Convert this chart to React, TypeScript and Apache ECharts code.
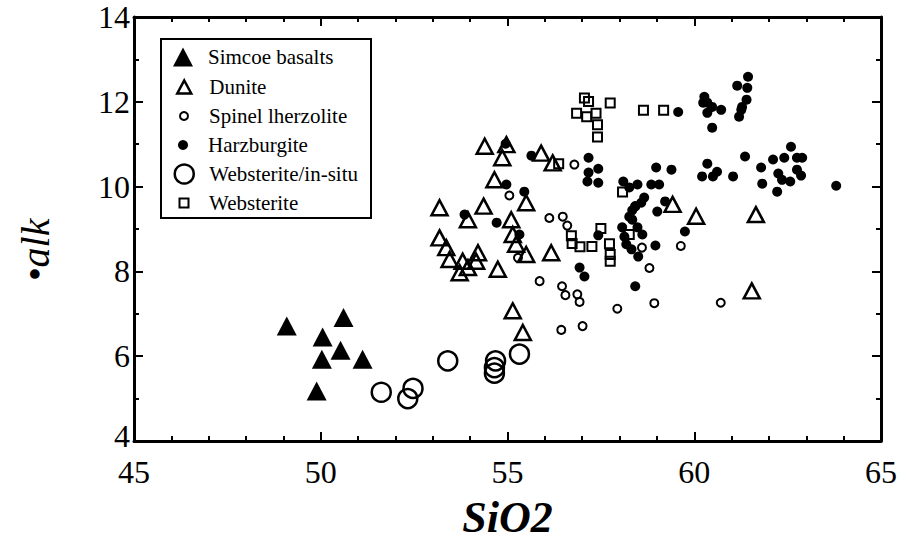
import React, { useEffect, useRef } from "react";
import * as echarts from "echarts";

const xTicks = [45, 50, 55, 60, 65];
const yTicks = [4, 6, 8, 10, 12, 14];

const seriesNames = [
  "Simcoe basalts",
  "Dunite",
  "Spinel lherzolite",
  "Harzburgite",
  "Websterite/in-situ",
  "Websterite",
];

const simcoeBasalts = [
  [49.09, 6.71], [50.05, 6.45], [50.61, 6.91], [50.53, 6.14],
  [50.03, 5.93], [51.12, 5.93], [49.89, 5.18],
];

const dunite = [
  [54.39, 10.95], [54.97, 10.99], [54.86, 10.68], [55.9, 10.79], [56.21, 10.56],
  [54.65, 10.16], [55.5, 9.62], [53.18, 9.5], [54.36, 9.54], [53.94, 9.22],
  [55.1, 9.22], [53.18, 8.79], [53.36, 8.56], [53.45, 8.28], [53.8, 8.24],
  [53.72, 7.97], [53.94, 8.09], [54.21, 8.44], [54.16, 8.24], [55.14, 8.87],
  [55.23, 8.64], [55.5, 8.4], [56.17, 8.44], [54.74, 8.05], [55.14, 7.07],
  [55.41, 6.56], [59.42, 9.58], [60.05, 9.3], [61.65, 9.34], [61.54, 7.54],
];

const spinelLherzolite = [
  [56.79, 10.52], [55.05, 9.79], [56.12, 9.26], [56.48, 9.29], [56.6, 9.08],
  [55.28, 8.32], [55.86, 7.77], [56.46, 7.65], [56.55, 7.44], [56.87, 7.46],
  [56.93, 7.28], [56.44, 6.62], [57.01, 6.71], [57.94, 7.12], [58.93, 7.25],
  [58.8, 8.08], [58.6, 8.56], [59.64, 8.6], [60.71, 7.26], [58.42, 9.54],
];

const harzburgite = [
  [61.44, 12.59], [61.15, 12.38], [61.42, 12.33], [61.4, 12.05], [61.28, 11.88],
  [61.26, 11.81], [61.2, 11.65], [60.27, 12.12], [60.24, 11.98], [60.35, 11.98],
  [60.48, 11.88], [60.72, 11.81], [60.35, 11.74], [60.48, 11.39], [59.57, 11.76],
  [57.17, 10.68], [57.43, 10.42], [57.17, 10.33], [57.14, 10.12], [57.43, 10.09],
  [58.98, 10.45], [59.39, 10.4], [58.1, 10.12], [58.48, 10.05], [58.85, 10.05],
  [59.06, 10.05], [58.26, 9.98], [60.35, 10.54], [60.21, 10.24], [60.5, 10.24],
  [60.61, 10.35], [61.04, 10.24], [61.36, 10.71], [61.79, 10.45], [61.82, 10.07],
  [62.11, 10.64], [62.25, 10.31], [62.35, 10.16], [62.59, 10.94], [62.41, 10.68],
  [62.75, 10.68], [62.89, 10.68], [62.75, 10.4], [62.86, 10.26], [62.57, 10.12],
  [62.22, 9.88], [63.8, 10.02], [58.66, 9.74], [58.58, 9.62], [58.42, 9.53],
  [58.34, 9.44], [58.26, 9.29], [58.34, 9.22], [59.01, 9.41], [59.22, 9.65],
  [58.07, 9.04], [58.13, 8.82], [58.48, 9.04], [58.61, 8.87], [58.18, 8.64],
  [58.32, 8.52], [58.5, 8.35], [58.96, 8.61], [59.75, 8.94], [56.93, 8.09],
  [57.06, 7.88], [58.42, 7.65], [57.43, 8.85], [55.64, 10.73], [54.95, 11.01],
  [54.97, 10.05], [55.45, 9.88], [53.85, 9.34], [54.71, 9.15], [55.32, 8.87],
];

const websteriteInSitu = [
  [51.62, 5.15], [52.33, 5.0], [52.47, 5.24], [53.4, 5.89],
  [54.65, 5.6], [54.65, 5.73], [54.68, 5.89], [55.32, 6.05],
];

const websterite = [
  [57.06, 12.09], [57.17, 12.01], [57.75, 11.97], [56.85, 11.73], [57.12, 11.65],
  [57.37, 11.73], [57.41, 11.46], [57.41, 11.17], [58.64, 11.8], [59.18, 11.8],
  [56.37, 10.54], [58.08, 9.87], [57.5, 9.01], [58.26, 8.87], [56.71, 8.84],
  [56.73, 8.66], [56.94, 8.58], [57.26, 8.59], [57.73, 8.65], [57.75, 8.4],
  [57.75, 8.24],
];

const FONT = "Liberation Serif";
const CLEAR = "rgba(0,0,0,0)";

export default function App() {
  const ref = useRef<HTMLDivElement>(null);

  useEffect(() => {
    document.body.style.margin = "0";
    if (!ref.current) return;
    const chart = echarts.init(ref.current, null, { renderer: "svg" });

    const styles = [
      { symbol: "triangle", size: [20, 19], legendSize: [20, 19], item: { color: "#000", opacity: 1 } },
      { symbol: "triangle", size: [16, 15], legendSize: [14, 13], item: { color: CLEAR, borderColor: "#000", borderWidth: 2.5, opacity: 1 } },
      { symbol: "circle", size: [8, 8], legendSize: [8, 8], item: { color: CLEAR, borderColor: "#000", borderWidth: 2, opacity: 1 } },
      { symbol: "circle", size: [10, 10], legendSize: [10, 10], item: { color: "#000", opacity: 1 } },
      { symbol: "circle", size: [19, 19], legendSize: [19, 19], item: { color: CLEAR, borderColor: "#000", borderWidth: 2.5, opacity: 1 } },
      { symbol: "rect", size: [9, 9], legendSize: [9, 9], item: { color: CLEAR, borderColor: "#000", borderWidth: 2, opacity: 1 } },
    ];
    const datasets = [simcoeBasalts, dunite, spinelLherzolite, harzburgite, websteriteInSitu, websterite];

    const legendCenters = [57, 87, 116, 145, 174, 203];
    const legends = seriesNames.map((name, i) => {
      const [w, h] = styles[i].legendSize;
      return {
        show: true,
        orient: "vertical",
        left: 183 - w / 2,
        top: legendCenters[i] - 12,
        padding: 0,
        itemWidth: w,
        itemHeight: h,
        selectedMode: false,
        data: [{ name, icon: styles[i].symbol, itemStyle: { ...styles[i].item } }],
        textStyle: {
          fontFamily: FONT,
          fontSize: 21,
          color: "#000",
          lineHeight: 24,
          padding: [0, 0, 0, 20 - w / 2],
        },
      };
    });

    const axisLine = { show: true, onZero: false, lineStyle: { color: "#000", width: 3 } };
    const tickStyle = { color: "#000", width: 2 };

    const xBase = {
      type: "value",
      min: 45,
      max: 65,
      interval: 5,
      axisLine,
      axisTick: { show: true, inside: true, length: 9, lineStyle: tickStyle },
      minorTick: { show: true, splitNumber: 5, length: 5, lineStyle: tickStyle },
      splitLine: { show: false },
      minorSplitLine: { show: false },
    };
    const yBase = {
      type: "value",
      min: 4,
      max: 14,
      interval: 2,
      axisLine,
      axisTick: { show: true, inside: true, length: 9, lineStyle: tickStyle },
      minorTick: { show: true, splitNumber: 2, length: 5, lineStyle: tickStyle },
      splitLine: { show: false },
      minorSplitLine: { show: false },
    };

    chart.setOption({
      animation: false,
      backgroundColor: "#fff",
      grid: { left: 134, right: 18, top: 17, bottom: 102 },
      legend: legends,
      xAxis: [
        {
          ...xBase,
          position: "bottom",
          name: "SiO2",
          nameLocation: "middle",
          nameGap: 54,
          nameTextStyle: { fontFamily: FONT, fontStyle: "italic", fontWeight: "bold", fontSize: 44, color: "#000" },
          axisLabel: {
            fontFamily: FONT,
            fontSize: 32,
            lineHeight: 30,
            color: "#000",
            margin: 16,
            formatter: (v: number) => (xTicks.includes(v) ? String(v) : ""),
          },
        },
        { ...xBase, position: "top", axisLabel: { show: false } },
      ],
      yAxis: [
        {
          ...yBase,
          position: "left",
          axisLabel: {
            fontFamily: FONT,
            fontSize: 32,
            lineHeight: 24,
            color: "#000",
            margin: 4,
            formatter: (v: number) =>
              v === 4 ? "{low|4}" : yTicks.includes(v) ? String(v) : "",
            rich: {
              low: { fontFamily: FONT, fontSize: 32, lineHeight: 24, color: "#000", padding: [0, 0, 10, 0] },
            },
          },
        },
        { ...yBase, position: "right", axisLabel: { show: false } },
      ],
      graphic: [
        {
          type: "rect",
          shape: { x: 161, y: 39, width: 210, height: 179 },
          style: { fill: "#fff", stroke: "#000", lineWidth: 2 },
          z: 1,
        },
        {
          type: "text",
          x: 35,
          y: 250,
          rotation: Math.PI / 2,
          style: {
            text: "•alk",
            font: `italic 40px '${FONT}'`,
            fill: "#000",
            align: "center",
            verticalAlign: "middle",
          },
        },
      ],
      series: seriesNames.map((name, i) => ({
        name,
        type: "scatter",
        xAxisIndex: 0,
        yAxisIndex: 0,
        symbol: styles[i].symbol,
        symbolSize: styles[i].size,
        itemStyle: styles[i].item,
        data: datasets[i],
        emphasis: { disabled: true },
      })),
    });

    return () => chart.dispose();
  }, []);

  return <div ref={ref} style={{ width: 900, height: 544 }} />;
}
